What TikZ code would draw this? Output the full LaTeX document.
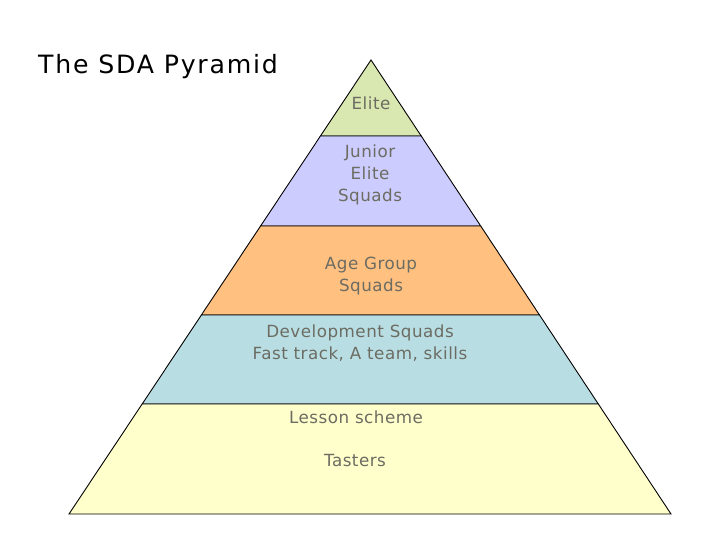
\documentclass[tikz,border=0pt]{standalone}
\usepackage{fontspec}
\setmainfont{DejaVu Sans}
\newfontfamily\lblfont[LetterSpace=3]{DejaVu Sans}
\newfontfamily\titlefont[LetterSpace=7]{DejaVu Sans}
\usepackage{tikz}
\usetikzlibrary{calc}

\definecolor{eliteGreen}{RGB}{216,232,176}
\definecolor{juniorBlue}{RGB}{204,204,255}
\definecolor{ageOrange}{RGB}{255,192,128}
\definecolor{devBlue}{RGB}{184,222,228}
\definecolor{baseYellow}{RGB}{255,255,204}
\definecolor{labelGrey}{RGB}{108,108,98}

\begin{document}
\begin{tikzpicture}[x=1bp, y=-1bp, line width=0.9bp,
    lbl/.style={text=labelGrey, align=center, font=\lblfont\fontsize{16.8}{22}\selectfont}]
   \useasboundingbox (0,0) rectangle (720,540);
   \coordinate (top) at (371,60);
   \coordinate (bl) at (69,514);
   \coordinate (br) at (671,514);
   \foreach \n/\t in {a/0.1674, b/0.3656, c/0.5617, d/0.7577}{
     \coordinate (l\n) at ($(top)!\t!(bl)$);
     \coordinate (r\n) at ($(top)!\t!(br)$);
   }
   \begin{scope}[draw=black]
    \filldraw[fill=eliteGreen] (top) -- (ra) -- (la) -- cycle;
    \filldraw[fill=juniorBlue] (la) -- (ra) -- (rb) -- (lb) -- cycle;
    \filldraw[fill=ageOrange] (lb) -- (rb) -- (rc) -- (lc) -- cycle;
    \filldraw[fill=devBlue] (lc) -- (rc) -- (rd) -- (ld) -- cycle;
    \filldraw[fill=baseYellow] (ld) -- (rd) -- (br) -- (bl) -- cycle;
   \end{scope}
   \begin{scope}[every node/.style={lbl}]
    \node (elite) at (371,103) {Elite};
    \node (junior) at (370,175) {Junior\\Elite\\Squads};
    \node (age) at (371,276) {Age Group\\Squads};
    \node (dev) at (360,343) {Development Squads\\Fast track, A team, skills};
    \node (lesson) at (356,417) {Lesson scheme};
    \node (tasters) at (355,461) {Tasters};
   \end{scope}
   \node (title) at (158,67) [font=\titlefont\fontsize{25.3}{28}\selectfont] {The SDA Pyramid};
\end{tikzpicture}
\end{document}
